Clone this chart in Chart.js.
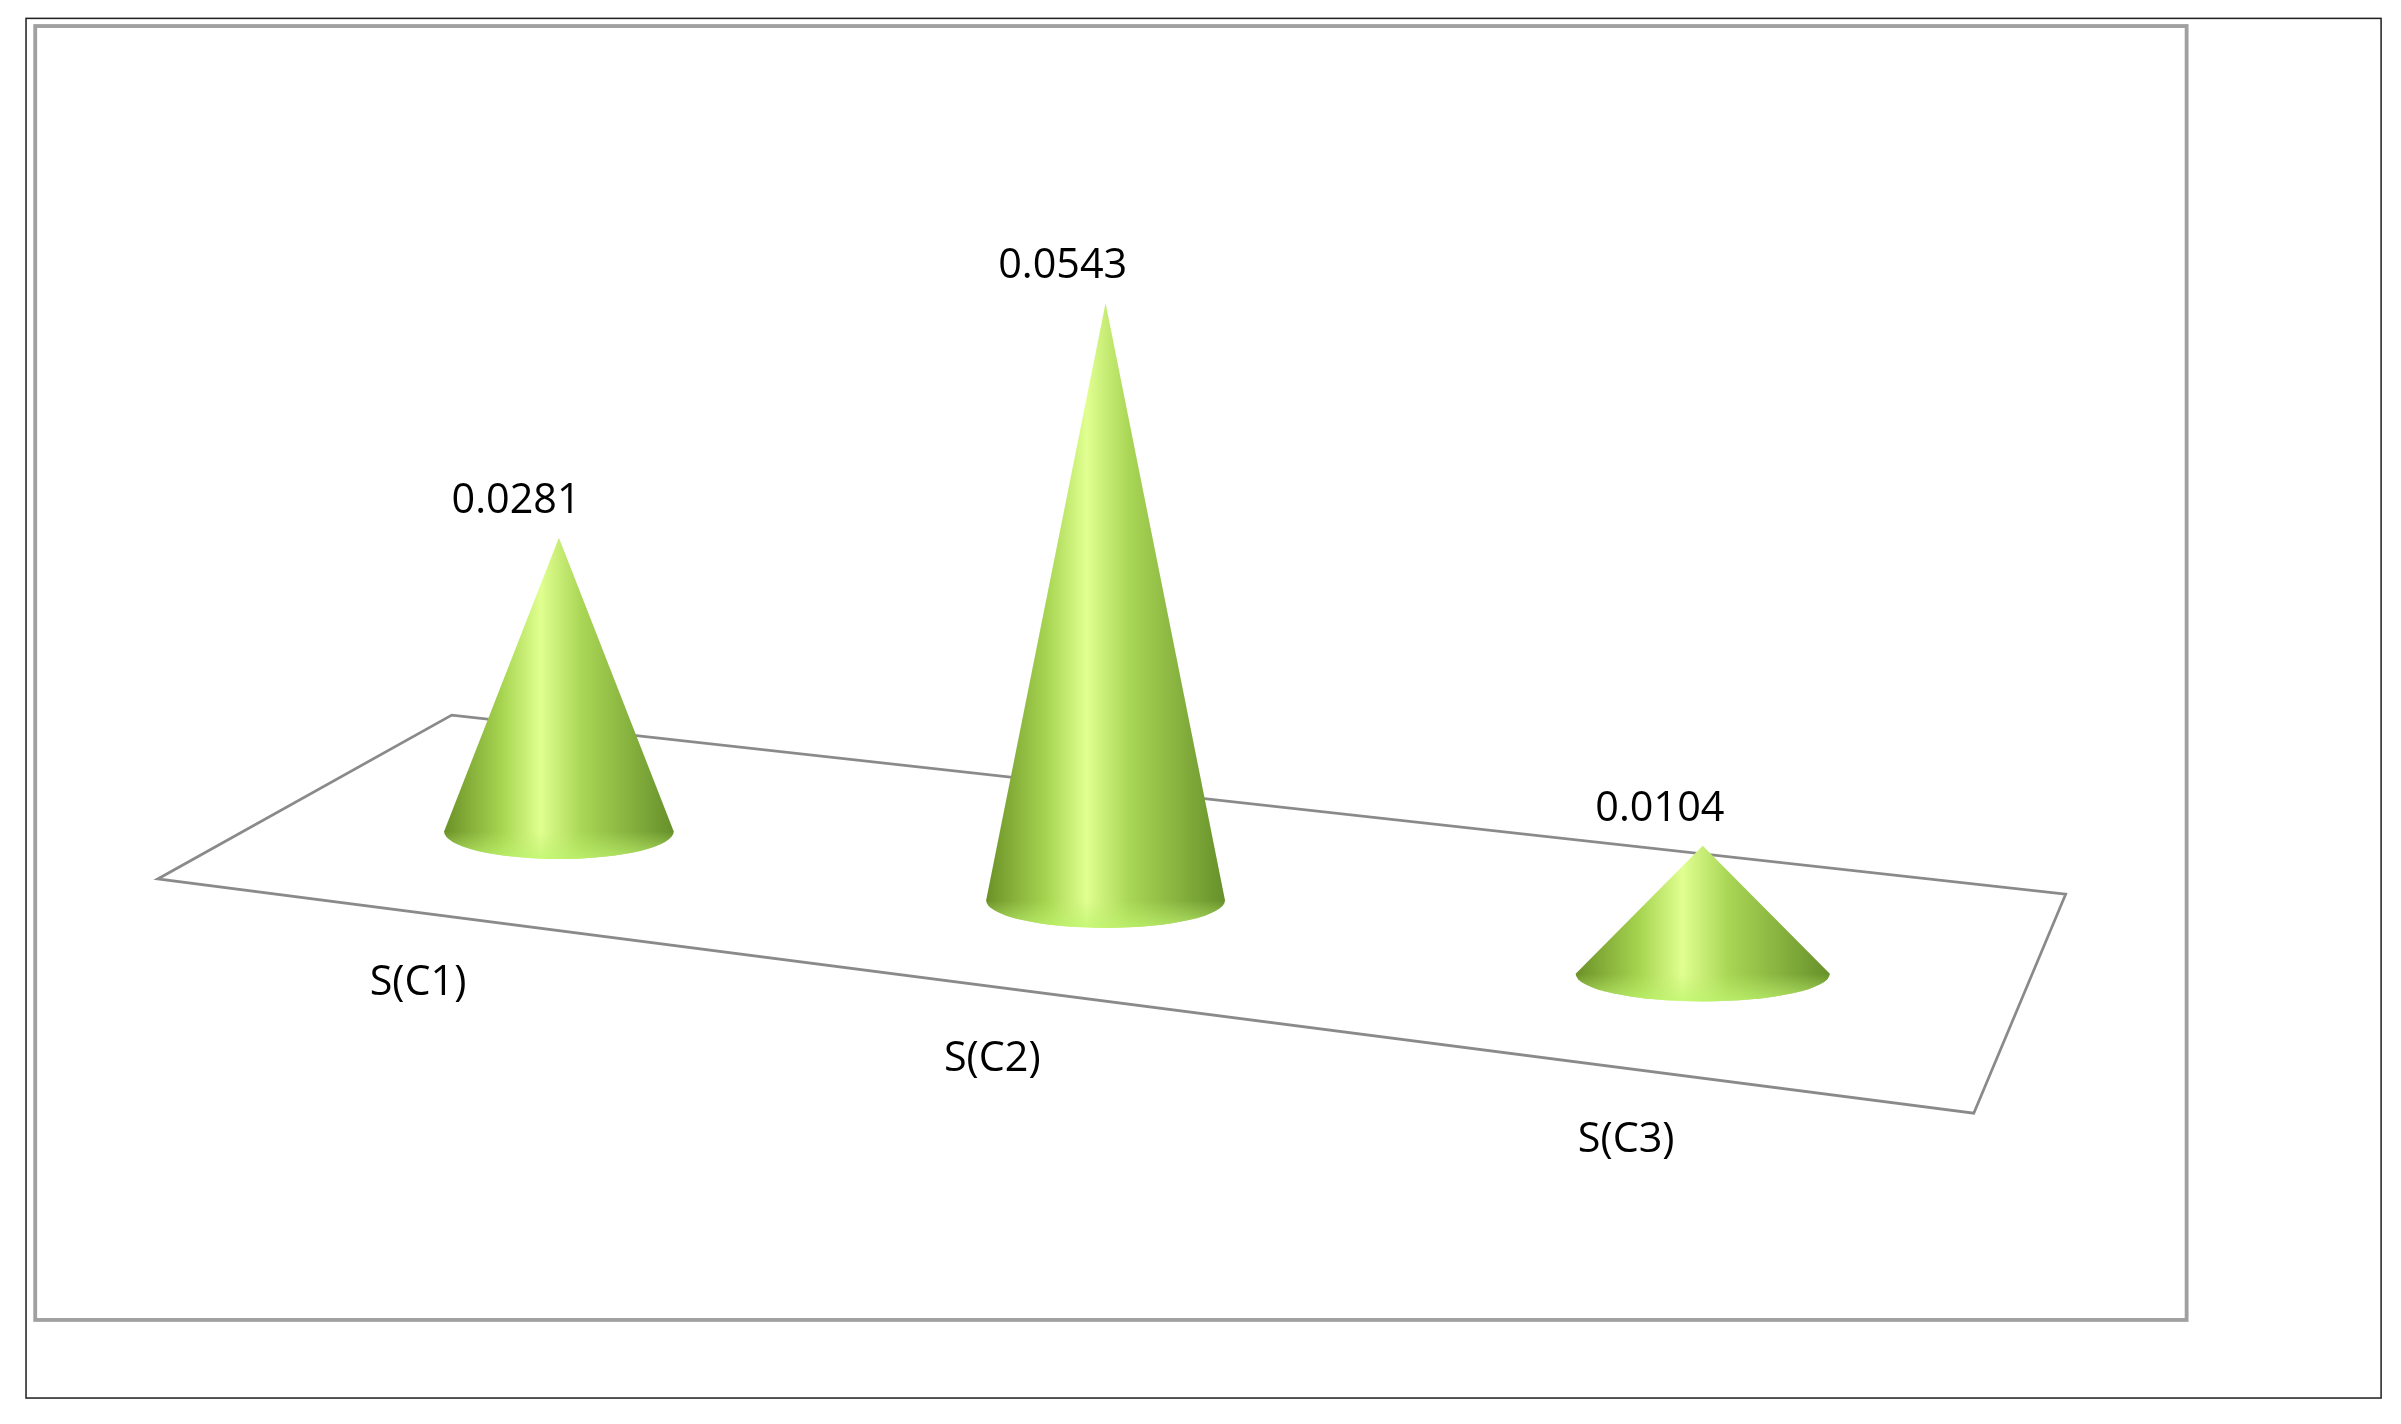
<!DOCTYPE html>
<html>
<head>
<title>Cone chart</title>
<script src="https://cdn.jsdelivr.net/npm/chart.js"></script>
<style>body{margin:0;background:#fff}</style>
</head>
<body>
<canvas id="coneChart" width="2401" height="1424"></canvas>
<script>
const categories = ['S(C1)', 'S(C2)', 'S(C3)'];
const values = [0.0281, 0.0543, 0.0104];
const yMax = 0.06;

// drawing happens in reference units (1568 wide), scaled up to the canvas
const K = 2401 / 1568;
// perspective: shift of each cone's floor point from the category slot, and depth scale
const depthShiftX = [17, 0, 16];
const depthShiftY = [-45, 0, 48];
const depthScale = [0.95, 1, 1.12];
const baseRadius = [75, 78, 83];
const labelOffset = [[-92, 99], [-74, 104], [-50, 109]];

function coneGradient(ctx, cx, rx) {
    const g = ctx.createLinearGradient(cx - rx, 0, cx + rx, 0);
    g.addColorStop(0, '#6b9127');
    g.addColorStop(0.25, '#a6d450');
    g.addColorStop(0.42, '#e0ff90');
    g.addColorStop(0.6, '#a9d655');
    g.addColorStop(1, '#66902a');
    return g;
}

const conePlugin = {
    id: 'cones',
    beforeDatasetsDraw(chart) {
        const ctx = chart.ctx;
        ctx.save();
        ctx.scale(K, K);
        ctx.strokeStyle = '#222';
        ctx.lineWidth = 1;
        ctx.strokeRect(17, 12, 1538, 901);
        ctx.strokeStyle = '#a0a0a0';
        ctx.lineWidth = 2.5;
        ctx.strokeRect(23, 17, 1405, 845);
        ctx.strokeStyle = '#8a8a8a';
        ctx.lineWidth = 1.8;
        ctx.beginPath();
        ctx.moveTo(103, 574);
        ctx.lineTo(295, 467);
        ctx.lineTo(1349, 584);
        ctx.lineTo(1289, 727);
        ctx.closePath();
        ctx.stroke();
        ctx.restore();
    },
    afterDatasetsDraw(chart) {
        const ctx = chart.ctx;
        const meta = chart.getDatasetMeta(0);
        ctx.save();
        ctx.scale(K, K);
        meta.data.forEach((bar, i) => {
            const cx = bar.x / K + depthShiftX[i];
            const by = bar.base / K + depthShiftY[i];
            const h = (bar.base - bar.y) / K * depthScale[i];
            const ay = by - h;
            const rx = baseRadius[i], ry = 18;
            ctx.beginPath();
            ctx.moveTo(cx, ay);
            ctx.lineTo(cx - rx, by);
            ctx.ellipse(cx, by, rx, ry, 0, Math.PI, 0, true);
            ctx.closePath();
            ctx.fillStyle = coneGradient(ctx, cx, rx);
            ctx.fill();
            // lighter rim at the front of the base
            ctx.beginPath();
            ctx.ellipse(cx, by, rx, ry, 0, Math.PI, 0, true);
            ctx.closePath();
            const rg = ctx.createLinearGradient(0, by, 0, by + ry);
            rg.addColorStop(0, 'rgba(190,240,110,0)');
            rg.addColorStop(1, 'rgba(190,245,110,0.75)');
            ctx.fillStyle = rg;
            ctx.fill();

            ctx.fillStyle = '#000';
            ctx.font = '27px "Open Sans", sans-serif';
            ctx.textAlign = 'center';
            ctx.textBaseline = 'middle';
            ctx.fillText(values[i].toFixed(4), cx - 28, ay - 24);
            ctx.fillText(categories[i], cx + labelOffset[i][0], by + labelOffset[i][1]);
        });
        ctx.restore();
    }
};

new Chart(document.getElementById('coneChart'), {
    type: 'bar',
    data: {
        labels: categories,
        datasets: [{ data: values, backgroundColor: 'rgba(0,0,0,0)' }]
    },
    options: {
        responsive: false,
        devicePixelRatio: 1,
        animation: false,
        layout: { padding: { left: 161 * K, right: 285 * K, top: 157 * K, bottom: 342 * K } },
        plugins: { legend: { display: false }, tooltip: { enabled: false } },
        scales: {
            x: { display: false },
            y: { display: false, min: 0, max: yMax }
        }
    },
    plugins: [conePlugin]
});
</script>
</body>
</html>
